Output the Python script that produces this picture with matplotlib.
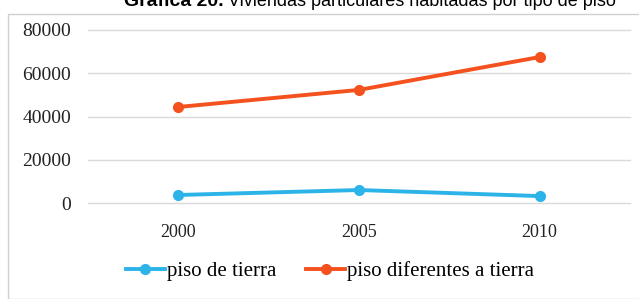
import matplotlib.pyplot as plt
from matplotlib.patches import Rectangle

# Datos
anios = ['2000', '2005', '2010']
piso_tierra = [3700, 6000, 3200]
piso_diferente = [44400, 52300, 67500]
yticks = [0, 20000, 40000, 60000, 80000]

azul = '#2cb3e8'
naranja = '#f4511e'

fig = plt.figure(figsize=(6.39, 2.99), dpi=100)

# Marco del gráfico
fig.patches.append(Rectangle((8 / 639, 0), 1, 1 - 14 / 299, transform=fig.transFigure,
                             fill=False, edgecolor='#d0d0d0', linewidth=1))

# Título (cortado arriba, como en la imagen original)
fig.text(224 / 639, 1 - 6 / 299, 'Gráfica 20.', ha='right', va='baseline',
         fontsize=14, fontweight='bold', family='Liberation Sans')
fig.text(228 / 639, 1 - 6 / 299, 'Viviendas particulares habitadas por tipo de piso',
         ha='left', va='baseline', fontsize=13, family='Liberation Sans')

ax = fig.add_axes([88 / 639, 1 - 203 / 299, (630 - 88) / 639, (203 - 30) / 299])
x = range(len(anios))
ax.plot(x, piso_tierra, color=azul, lw=2.8, marker='o', ms=7, label='piso de tierra')
ax.plot(x, piso_diferente, color=naranja, lw=2.8, marker='o', ms=7,
        label='piso diferentes a tierra')

ax.set_xlim(-0.5, 2.5)
ax.set_ylim(0, 80000)
ax.set_xticks(list(x))
ax.set_xticklabels(anios)
ax.set_yticks(yticks)
ax.set_yticklabels([str(v) for v in yticks])
for s in ax.spines.values():
    s.set_visible(False)
ax.grid(axis='y', color='#d9d9d9', lw=1)
for gl in ax.get_ygridlines():
    gl.set_clip_on(False)
ax.set_axisbelow(True)
ax.tick_params(length=0, colors='#222222')
ax.tick_params(axis='x', pad=15, labelsize=13)
ax.tick_params(axis='y', pad=12, labelsize=14)
for lab in ax.get_xticklabels() + ax.get_yticklabels():
    lab.set_family('Liberation Serif')

leg = fig.legend(loc='center', bbox_to_anchor=(330 / 639, 1 - 271 / 299), ncol=2,
                 frameon=False, handlelength=1.9, handletextpad=0.1, columnspacing=1.4,
                 prop={'family': 'Liberation Serif', 'size': 15})

fig.savefig('out.png', dpi=100)
